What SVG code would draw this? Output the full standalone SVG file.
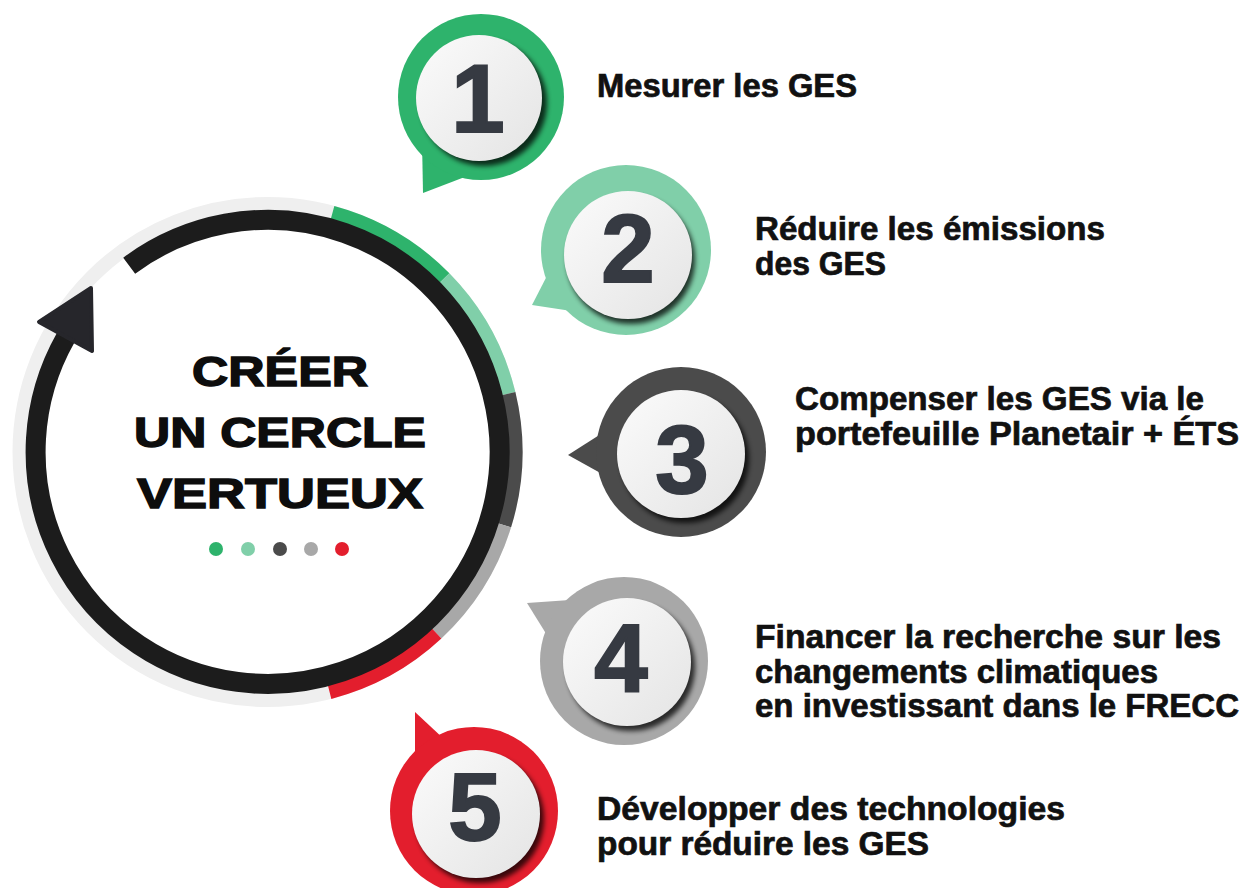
<svg xmlns="http://www.w3.org/2000/svg" width="1255" height="888" viewBox="0 0 1255 888">
<style>
.lbl{font-family:"Liberation Sans",Arial,sans-serif;font-weight:700;font-size:33px;fill:#111;stroke:#111;stroke-width:0.7}
.ttl{font-family:"Liberation Sans",Arial,sans-serif;font-weight:700;font-size:42px;fill:#0d0d0d;stroke:#0d0d0d;stroke-width:1.4;text-anchor:middle}
.num{font-family:"Liberation Sans",Arial,sans-serif;font-weight:700;font-size:96px;fill:#363a42;stroke:#363a42;stroke-width:2;text-anchor:middle}
.seg{fill:none;stroke-width:14}
.inner{fill:url(#ig)}
.shadow{fill:#000;opacity:0.75;filter:url(#blur)}
</style>
<defs>
<linearGradient id="ig" x1="0" y1="0" x2="1" y2="1">
<stop offset="0" stop-color="#fbfbfb"/>
<stop offset="1" stop-color="#e4e4e4"/>
</linearGradient>
<filter id="blur" x="-20%" y="-20%" width="140%" height="140%"><feGaussianBlur stdDeviation="2.5"/></filter>
</defs>
<rect width="1255" height="888" fill="#fff"/>

<g id="cycle">
<circle cx="267.5" cy="452" r="248" fill="#fff" stroke="#efefef" stroke-width="14"/>
<path class="seg" stroke="#2eb36c" d="M332.5,212.7 A248,248 0 0 1 444.4,278.2"/>
<path class="seg" stroke="#80cfa9" d="M444.4,278.2 A248,248 0 0 1 508.6,393.7"/>
<path class="seg" stroke="#4b4b4b" d="M508.6,393.7 A248,248 0 0 1 504.4,525.3"/>
<path class="seg" stroke="#a8a8a8" d="M504.4,525.3 A248,248 0 0 1 436.6,633.4"/>
<path class="seg" stroke="#e31e2d" d="M436.6,633.4 A248,248 0 0 1 329.6,692.1"/>
<text class="ttl" x="280" y="386" textLength="176" lengthAdjust="spacingAndGlyphs">CRÉER</text>
<text class="ttl" x="280" y="447" textLength="292" lengthAdjust="spacingAndGlyphs">UN CERCLE</text>
<text class="ttl" x="280" y="508" textLength="286" lengthAdjust="spacingAndGlyphs">VERTUEUX</text>
<circle cx="216" cy="549" r="7" fill="#2eb36c"/>
<circle cx="248" cy="549" r="7" fill="#80cfa9"/>
<circle cx="280" cy="549" r="7" fill="#4b4b4b"/>
<circle cx="311" cy="549" r="7" fill="#a8a8a8"/>
<circle cx="342" cy="549" r="7" fill="#e31e2d"/>
</g>

<g id="connectors">
<path d="M129.2,265.7 A232,232 0 1 1 65.6,337.8" fill="none" stroke="#1c1c1c" stroke-width="20"/>
<polygon points="91,288 39,322 92,351" fill="#26262b" stroke="#26262b" stroke-width="4" stroke-linejoin="round"/>
</g>

<g id="step1">
<polygon points="422,140 423,193 470,175" fill="#2eb36c"/>
<circle cx="481" cy="97" r="83" fill="#2eb36c"/>
<circle class="shadow" cx="484" cy="103" r="63"/>
<circle class="inner" cx="479" cy="98" r="63"/>
<text class="num" x="478" y="132">1</text>
<text class="lbl" x="597" y="97" textLength="260" lengthAdjust="spacingAndGlyphs">Mesurer les GES</text>
</g>

<g id="step2">
<polygon points="550,270 532,305 578,312" fill="#80cfa9"/>
<circle cx="626" cy="250" r="85" fill="#80cfa9"/>
<circle class="shadow" cx="631" cy="260" r="64"/>
<circle class="inner" cx="628" cy="255" r="64"/>
<text class="num" x="628" y="282">2</text>
<text class="lbl" x="755" y="240" textLength="350" lengthAdjust="spacingAndGlyphs">Réduire les émissions</text>
<text class="lbl" x="755" y="275" textLength="131" lengthAdjust="spacingAndGlyphs">des GES</text>
</g>

<g id="step3">
<polygon points="604,432 568,455 604,475" fill="#4b4b4b"/>
<circle cx="681" cy="452" r="85" fill="#4b4b4b"/>
<circle class="shadow" cx="685" cy="459" r="64"/>
<circle class="inner" cx="681" cy="454" r="64"/>
<text class="num" x="682" y="493">3</text>
<text class="lbl" x="795" y="410" textLength="409" lengthAdjust="spacingAndGlyphs">Compenser les GES via le</text>
<text class="lbl" x="795" y="445" textLength="444" lengthAdjust="spacingAndGlyphs">portefeuille Planetair + ÉTS</text>
</g>

<g id="step4">
<polygon points="570,600 527,603 550,640" fill="#a8a8a8"/>
<circle cx="624" cy="661" r="84" fill="#a8a8a8"/>
<circle class="shadow" cx="631" cy="667" r="64"/>
<circle class="inner" cx="627" cy="662" r="64"/>
<text class="num" x="621" y="692">4</text>
<text class="lbl" x="755" y="648" textLength="466" lengthAdjust="spacingAndGlyphs">Financer la recherche sur les</text>
<text class="lbl" x="755" y="683" textLength="403" lengthAdjust="spacingAndGlyphs">changements climatiques</text>
<text class="lbl" x="755" y="717" textLength="484" lengthAdjust="spacingAndGlyphs">en investissant dans le FRECC</text>
</g>

<g id="step5">
<polygon points="445,740 415,712 415,760" fill="#e31e2d"/>
<circle cx="474" cy="811" r="84" fill="#e31e2d"/>
<circle class="shadow" cx="480" cy="819" r="64"/>
<circle class="inner" cx="476" cy="814" r="64"/>
<text class="num" x="475" y="840">5</text>
<text class="lbl" x="597" y="820" textLength="468" lengthAdjust="spacingAndGlyphs">Développer des technologies</text>
<text class="lbl" x="597" y="855" textLength="332" lengthAdjust="spacingAndGlyphs">pour réduire les GES</text>
</g>
</svg>
